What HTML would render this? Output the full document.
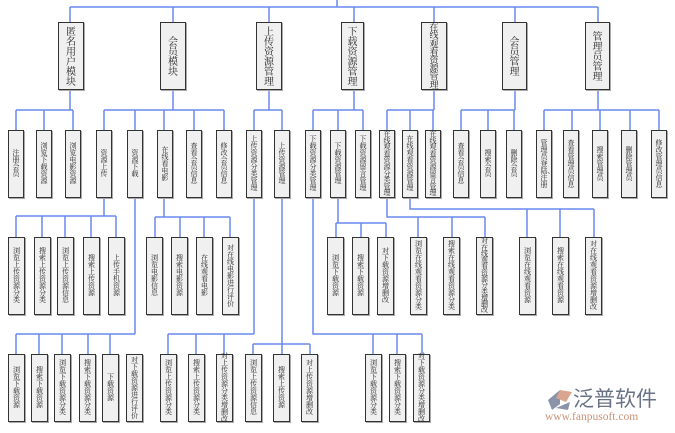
<!DOCTYPE html>
<html><head><meta charset="utf-8"><style>
html,body{margin:0;padding:0;background:#fff;}
body{width:675px;height:433px;position:relative;overflow:hidden;font-family:"Liberation Serif","Noto Serif CJK SC","Noto Sans CJK SC",serif;}
.b{position:absolute;box-sizing:border-box;background:#f0f0f0;border:1.5px solid #333;box-shadow:1px 1px 0 #aaa;display:flex;align-items:center;justify-content:center;color:#222;overflow:visible;}
.b span{display:block;width:1em;word-break:break-all;text-align:center;font-size:7px;line-height:7px;font-family:"Noto Serif CJK SC","Noto Sans CJK SC",serif;}
.l1 span{font-size:10px;line-height:10px;}
.l1{top:22px;height:68px;}
.l2{top:130px;height:68px;width:16px;}
.l3{top:237px;height:78px;width:17px;}
.l4{top:354px;height:68px;width:17px;}
svg{position:absolute;left:0;top:0;}
</style></head><body>
<svg width="675" height="433" viewBox="0 0 675 433" fill="none" stroke="#6a88ee" stroke-width="1.5">
<path d="M337 0V7M70 7H598M70 7V22M173 7V22M269 7V22M354 7V22M434 7V22M515 7V22M598 7V22"/>
<path d="M70 90V110M16 110H73M16 110V130M44 110V130M73 110V130"/>
<path d="M173 90V110M104 110H224M104 110V130M135 110V130M164 110V130M194 110V130M224 110V130"/>
<path d="M269 90V110M254 110H282M254 110V130M282 110V130"/>
<path d="M354 90V110M313 110H363M313 110V130M338 110V130M363 110V130"/>
<path d="M434 90V110M387 110H434M387 110V130M410 110V130M433 110V130"/>
<path d="M515 90V110M461 110H515M461 110V130M488 110V130M514 110V130"/>
<path d="M598 90V110M544 110H659M544 110V130M572 110V130M600 110V130M630 110V130M659 110V130"/>
<path d="M104 198V216M16 216H116M16 216V237M42 216V237M65 216V237M91 216V237M116 216V237"/>
<path d="M164 198V217M155 217H230M155 217V237M180 217V237M204 217V237M230 217V237"/>
<path d="M338 198V223M336 223H386M336 223V237M361 223V237M386 223V237"/>
<path d="M387 198V217H485M418 217V237M452 217V237M485 217V237"/>
<path d="M410 198V209H594M527 209V237M560 209V237M594 209V237"/>
<path d="M135 198V334M16 334H135M16 334V354M39 334V354M62 334V354M88 334V354M110 334V354"/>
<path d="M254 198V334M168 334H254M168 334V354M196 334V354M224 334V354"/>
<path d="M282 198V344M253 344H310M253 344V354M282 344V354M310 344V354"/>
<path d="M313 198V334H422M373 334V354M397 334V354M422 334V354"/>
</svg>

<div class="b l1" style="left:58px;width:26px"><span>匿名用户模块</span></div>
<div class="b l1" style="left:160px;width:26px"><span>会员模块</span></div>
<div class="b l1" style="left:256px;width:26px"><span>上传资源管理</span></div>
<div class="b l1" style="left:341px;width:23px"><span>下载资源管理</span></div>
<div class="b l1" style="left:421px;width:26px"><span style="font-size:9px;line-height:8.2px">在线观看资源管理</span></div>
<div class="b l1" style="left:502px;width:25px"><span>会员管理</span></div>
<div class="b l1" style="left:585px;width:25px"><span>管理员管理</span></div>

<div class="b l2" style="left:8px"><span>注册会员</span></div>
<div class="b l2" style="left:36px"><span>浏览下载资源</span></div>
<div class="b l2" style="left:65px"><span>浏览电影资源</span></div>
<div class="b l2" style="left:96px"><span>资源上传</span></div>
<div class="b l2" style="left:127px"><span>资源下载</span></div>
<div class="b l2" style="left:157px"><span>在线看电影</span></div>
<div class="b l2" style="left:186px"><span>查看会员信息</span></div>
<div class="b l2" style="left:216px"><span>修改会员信息</span></div>
<div class="b l2" style="left:246px"><span>上传资源分类管理</span></div>
<div class="b l2" style="left:274px"><span>上传资源管理</span></div>
<div class="b l2" style="left:305px"><span>下载资源分类管理</span></div>
<div class="b l2" style="left:330px"><span>下载资源管理</span></div>
<div class="b l2" style="left:355px"><span>下载资源留言管理</span></div>
<div class="b l2" style="left:379px"><span style="line-height:6.6px">在线观看资源分类管理</span></div>
<div class="b l2" style="left:402px"><span>在线观看资源管理</span></div>
<div class="b l2" style="left:425px"><span style="line-height:6.6px">在线观看资源留言管理</span></div>
<div class="b l2" style="left:453px"><span>查看会员信息</span></div>
<div class="b l2" style="left:480px"><span>搜索会员</span></div>
<div class="b l2" style="left:506px"><span>删除会员</span></div>
<div class="b l2" style="left:536px"><span>管理员登陆、注册</span></div>
<div class="b l2" style="left:563px"><span>查看管理员信息</span></div>
<div class="b l2" style="left:592px"><span>搜索管理员</span></div>
<div class="b l2" style="left:621px"><span>删除管理员</span></div>
<div class="b l2" style="left:651px"><span>修改管理员信息</span></div>

<div class="b l3" style="left:8px"><span>浏览上传资源分类</span></div>
<div class="b l3" style="left:34px"><span>搜索上传资源分类</span></div>
<div class="b l3" style="left:57px"><span>浏览上传资源信息</span></div>
<div class="b l3" style="left:83px"><span>搜索上传资源</span></div>
<div class="b l3" style="left:108px"><span>上传手机资源</span></div>
<div class="b l3" style="left:146px"><span>浏览电影信息</span></div>
<div class="b l3" style="left:171px"><span>搜索电影资源</span></div>
<div class="b l3" style="left:196px"><span>在线观看电影</span></div>
<div class="b l3" style="left:222px"><span>对在线电影进行评价</span></div>
<div class="b l3" style="left:327px"><span>浏览下载资源</span></div>
<div class="b l3" style="left:352px"><span>搜索下载资源</span></div>
<div class="b l3" style="left:377px"><span>对下载资源增删改</span></div>
<div class="b l3" style="left:410px"><span>浏览在线观看资源分类</span></div>
<div class="b l3" style="left:443px"><span>搜索在线观看资源分类</span></div>
<div class="b l3" style="left:476px"><span style="line-height:6.3px">对在线观看资源分类增删改</span></div>
<div class="b l3" style="left:519px"><span>浏览在线观看资源</span></div>
<div class="b l3" style="left:552px"><span>搜索在线观看资源</span></div>
<div class="b l3" style="left:585px"><span>对在线观看资源增删改</span></div>

<div class="b l4" style="left:8px"><span>浏览下载资源</span></div>
<div class="b l4" style="left:31px"><span>搜索下载资源</span></div>
<div class="b l4" style="left:54px"><span>浏览下载资源分类</span></div>
<div class="b l4" style="left:79px"><span>搜索下载资源分类</span></div>
<div class="b l4" style="left:102px"><span>下载资源</span></div>
<div class="b l4" style="left:126px"><span>对下载资源进行评价</span></div>
<div class="b l4" style="left:160px"><span>浏览上传资源分类</span></div>
<div class="b l4" style="left:188px"><span>搜索上传资源分类</span></div>
<div class="b l4" style="left:216px"><span>对上传资源分类增删改</span></div>
<div class="b l4" style="left:245px"><span>浏览上传资源信息</span></div>
<div class="b l4" style="left:273px"><span>搜索上传资源</span></div>
<div class="b l4" style="left:301px"><span>对上传资源增删改</span></div>
<div class="b l4" style="left:365px"><span>浏览下载资源分类</span></div>
<div class="b l4" style="left:389px"><span>搜索下载资源分类</span></div>
<div class="b l4" style="left:413px"><span>对下载资源分类增删改</span></div>

<svg width="675" height="433" viewBox="0 0 675 433">
<path d="M560 390 L548 400 L552 410 L560 404 Z" fill="#8a93a8"/>
<path d="M560 390 L572 392 L566 402 L556 398 Z" fill="#d9a58e"/>
<path d="M556 408 L570 402 L568 410 Z" fill="#8a93a8"/>
</svg>
<div style="position:absolute;left:573px;top:386px;font-family:'Noto Sans CJK SC',sans-serif;font-size:21px;line-height:24px;color:#6a7285;">泛普软件</div>
<div style="position:absolute;left:545px;top:411px;font-family:'Liberation Serif',serif;font-size:11.5px;line-height:13px;color:#c99378;">www.fanpusoft.com</div>
</body></html>
